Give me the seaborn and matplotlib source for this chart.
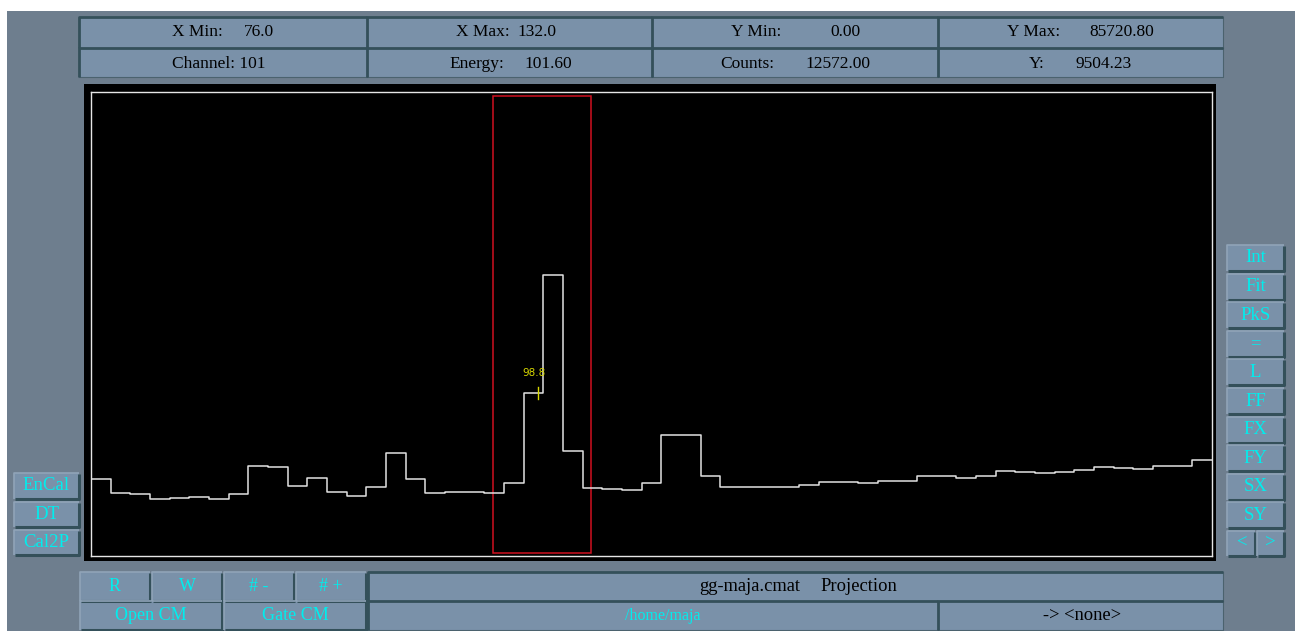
import numpy as np
import pandas as pd
import matplotlib
matplotlib.use("Agg")
import matplotlib.pyplot as plt
import seaborn as sns
from matplotlib.patches import Rectangle

# spectrum data: one bin per channel, 76 .. 132
channels = np.arange(76, 133)
counts = [14170, 11640, 11450, 10530, 10710, 10960, 10530, 11510, 16620, 16380,
          12990, 14410, 11820, 11140, 12800, 19080, 14220, 11640, 11820, 11820,
          11640, 13480, 30100, 51900, 19330, 12572, 12370, 12190, 13480, 22290,
          22290, 14720, 12740, 12740, 12740, 12740, 13050, 13730, 13730, 13480,
          13850, 13850, 14780, 14780, 14400, 14780, 15700, 15450, 15330, 15510,
          15880, 16380, 16200, 16010, 16620, 16620, 17730]
x_min, x_max = 76.0, 132.0
y_min, y_max = 0.0, 85720.80
gate_low, gate_high = 96.45, 101.4
peak_pos, peak_label = 98.74, "98.8"

header_row1 = [("X Min:", "76.0"), ("X Max:", "132.0"), ("Y Min:", "0.00"), ("Y Max:", "85720.80")]
header_row2 = [("Channel: 101", ""), ("Energy:", "101.60"), ("Counts:", "12572.00"), ("Y:", "9504.23")]
left_buttons = ["EnCal", "DT", "Cal2P"]
right_buttons = ["Int", "Fit", "PkS", "=", "L", "FF", "FX", "FY", "SX", "SY"]

W, H = 1295, 631
BG = "#6e7e8e"
CELL = "#7a91a9"
EDGE = "#34505a"
LIGHT = "#90a4b8"
CYAN = "#00eeee"
SERIF = ["Liberation Serif", "DejaVu Serif"]

fig = plt.figure(figsize=(W / 100, H / 100), dpi=100, facecolor=BG)
ui = fig.add_axes([0, 0, 1, 1], zorder=0)
ui.set_xlim(0, W)
ui.set_ylim(H, 0)
ui.axis("off")


def cell(x0, y0, x1, y1, text=None, tx=None, color="black", size=12.5, raised=False):
    ui.add_patch(Rectangle((x0, y0), x1 - x0, y1 - y0, facecolor=CELL, edgecolor="none"))
    if raised:
        # button: light top/left, dark bottom/right
        ui.plot([x0, x0, x1], [y1, y0, y0], color=LIGHT, lw=1.2, solid_capstyle="butt")
        ui.plot([x0 + 1, x1, x1], [y1, y1, y0 + 1], color=EDGE, lw=2.2, solid_capstyle="butt")
    else:
        # sunken field: dark top/left
        ui.plot([x0, x0, x1], [y1, y0, y0], color=EDGE, lw=2.0, solid_capstyle="butt")
        ui.plot([x0, x1, x1], [y1, y1, y0], color=EDGE, lw=0.8, alpha=0.6)
    if text is not None:
        ui.text((x0 + x1) / 2 if tx is None else tx, (y0 + y1) / 2, text,
                ha="center", va="center", color=color, fontsize=size, family=SERIF)


# white strips at top and left edge
ui.add_patch(Rectangle((0, 0), W, 11, facecolor="white", edgecolor="none"))
ui.add_patch(Rectangle((0, 0), 7, H, facecolor="white", edgecolor="none"))

# header
cols = [79, 367, 652, 938, 1223]
label_x = [[172, 244], [456, 517], [731, 830], [1007, 1089]]
label_x2 = [[172, None], [449, 524], [720, 805], [1029, 1076]]
for i in range(4):
    cell(cols[i], 17, cols[i + 1], 48)
    cell(cols[i], 48, cols[i + 1], 77)
    for (lab, val), xs, yc in ((header_row1[i], label_x[i], 32.5), (header_row2[i], label_x2[i], 63.5)):
        ui.text(xs[0], yc, lab, ha="left", va="center", fontsize=12.5, family=SERIF)
        if val:
            ui.text(xs[1], yc, val, ha="left", va="center", fontsize=12.5, family=SERIF)

# black plot surround
ui.add_patch(Rectangle((84, 84), 1216 - 84, 561 - 84, facecolor="black", edgecolor="none"))

# left buttons
for lab, (y0, y1) in zip(left_buttons, [(473, 499), (502, 527), (530, 555)]):
    cell(14, y0, 79, y1, lab, color=CYAN, size=13.5, raised=True)

# right buttons
for i, lab in enumerate(right_buttons):
    y0 = 245 + i * 28.6
    cell(1227, y0, 1284, y0 + 26, lab, color=CYAN, size=13.5, raised=True)
y0 = 245 + 10 * 28.6
cell(1227, y0, 1255, y0 + 25, "<", color=CYAN, size=13.5, raised=True)
cell(1257, y0, 1284, y0 + 25, ">", color=CYAN, size=13.5, raised=True)

# bottom panel
for (x0, x1, lab) in [(80, 150, "R"), (152, 222, "W"), (224, 294, "# -"), (296, 366, "# +")]:
    cell(x0, 572, x1, 601, lab, color=CYAN, size=13, raised=True)
cell(80, 601, 222, 630, "Open CM", color=CYAN, size=13, raised=True)
cell(224, 601, 366, 630, "Gate CM", color=CYAN, size=13, raised=True)
cell(368, 572, 1223, 601)
ui.text(699, 586.5, "gg-maja.cmat", ha="left", va="center", fontsize=13.3, family=SERIF)
ui.text(820, 586.5, "Projection", ha="left", va="center", fontsize=13.3, family=SERIF)
cell(368, 601, 938, 630, "/home/maja", tx=663, color=CYAN, size=11.5)
cell(938, 601, 1223, 630, "-> <none>", tx=1082, size=13.3)

# spectrum axes
ax = fig.add_axes([91 / W, (H - 556) / H, (1212 - 91) / W, (556 - 92) / H], zorder=2)
ax.set_facecolor("black")
spec = pd.DataFrame({"channel": channels, "counts": counts})
sns.histplot(data=spec, x="channel", weights="counts", binwidth=1,
             binrange=(x_min, x_max + 1), element="step", fill=False,
             color="#e2e2e2", linewidth=1.1, ax=ax)
ax.set_xlim(x_min, x_max + 1)
ax.set_ylim(y_min, y_max)
ax.set_xticks([])
ax.set_yticks([])
ax.set_xlabel("")
ax.set_ylabel("")
for s in ax.spines.values():
    s.set_color("#e6e6e6")
    s.set_linewidth(1.0)

# gate window
ax.add_patch(Rectangle((gate_low, 550), gate_high - gate_low, 84960 - 550,
                       facecolor="none", edgecolor="#d01020", linewidth=1.1))

# peak marker
peak_y = counts[list(channels).index(int(peak_pos))]
ax.plot([peak_pos, peak_pos], [peak_y - 1100, peak_y + 1100], color="#d8d800", linewidth=1)
ax.text(peak_pos - 0.2, peak_y + 3800, peak_label, ha="center", va="center",
        color="#d8d800", fontsize=7.5, family=["DejaVu Sans"])

fig.savefig("out.png", dpi=100, facecolor=BG)
